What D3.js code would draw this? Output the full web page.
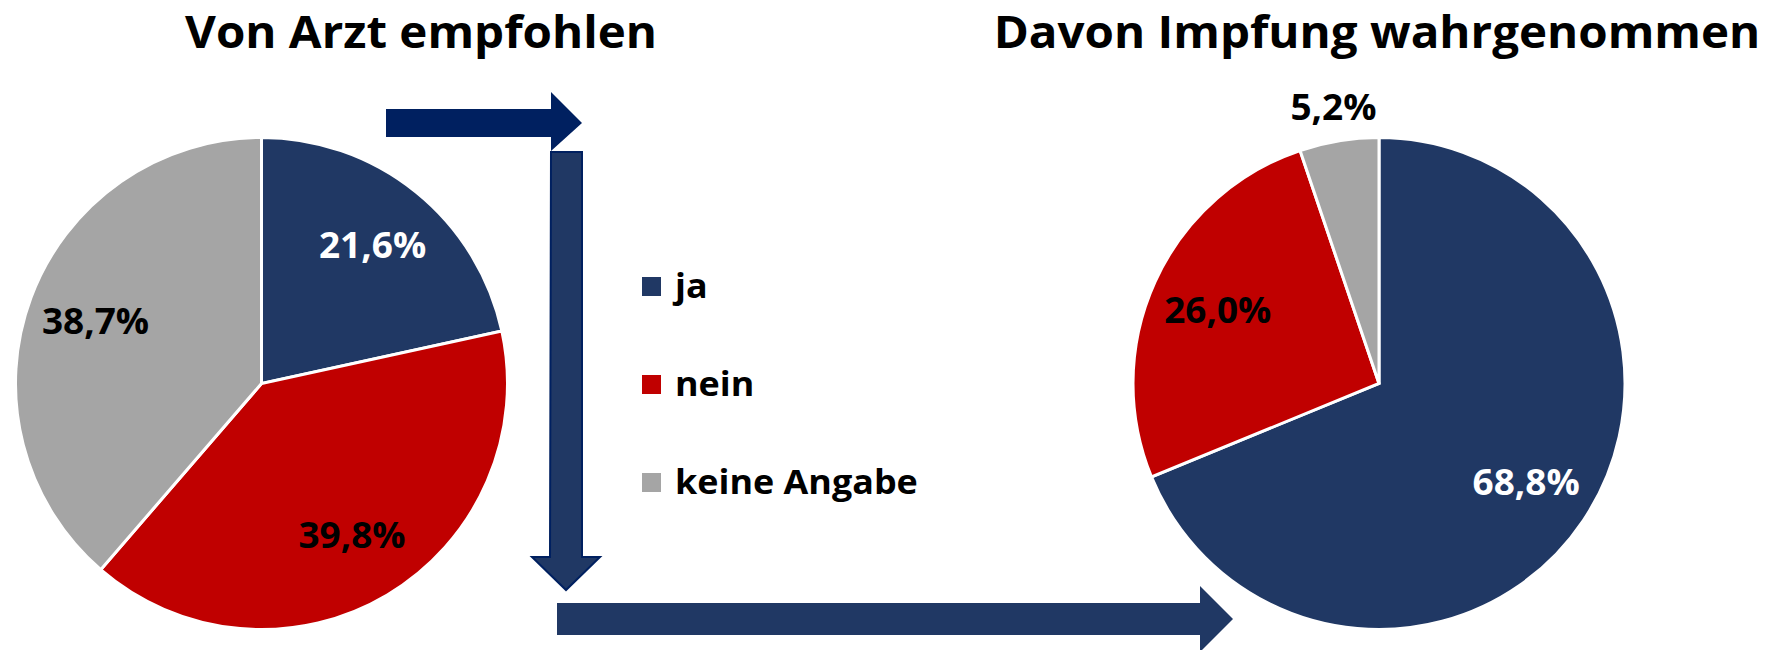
<!DOCTYPE html>
<html>
<head>
<meta charset="utf-8">
<script src="https://cdn.jsdelivr.net/npm/d3@7"></script>
<style>
  body{margin:0;background:#fff;}
  text{font-family:'Open Sans',sans-serif;font-weight:bold;}
</style>
</head>
<body>
<script>
// data
const cats = ['ja','nein','keine Angabe'];
const leftVals = [21.6, 39.8, 38.7];
const rightVals = [68.8, 26.0, 5.2];
const titles = ['Von Arzt empfohlen','Davon Impfung wahrgenommen'];

const w = 1775;
const h = 650;
const R = 246;
const colors = ['#203864','#C00000','#A5A5A5'];
const labelColors = ['#fff','#000','#000'];

var svg = d3.select('body').append('svg')
  .attr('width',w)
  .attr('height',h);

const color = d3.scaleOrdinal().domain(cats).range(colors);
const pie = d3.pie().sort(null).value(d=>d);
const arc = d3.arc().innerRadius(0).outerRadius(R);
const labelArc = d3.arc().innerRadius(R*0.72).outerRadius(R*0.72);
const outArc = d3.arc().innerRadius(R+34).outerRadius(R+34);

function fmt(v){
  return v.toFixed(1).replace('.',',')+'%';
}

//----------PIES----------
function drawPie(vals,cx,cy,title,titleX){
  var g = svg.append('g').attr('transform','translate('+cx+','+cy+')');
  var arcs = pie(vals);
  g.selectAll('path')
    .data(arcs)
    .enter().append('path')
    .attr('d',arc)
    .style('fill',(d,i)=>color(cats[i]))
    .style('stroke','#fff')
    .style('stroke-width',3);

  g.selectAll('text.lbl')
    .data(arcs)
    .enter().append('text')
    .attr('class','lbl cond')
    .attr('transform',d=>{
      var small = d.value<10;
      return 'translate('+(small?outArc:labelArc).centroid(d)+')';
    })
    .attr('text-anchor','middle')
    .attr('dy','0.36em')
    .style('font-size','35px')
    .style('fill',(d,i)=>d.value<10?'#000':labelColors[i])
    .text(d=>fmt(d.value));

  svg.append('text')
    .attr('class','cond title')
    .attr('x',titleX)
    .attr('y',48)
    .attr('text-anchor','middle')
    .style('font-size','45px')
    .style('fill','#000')
    .text(title);
}

drawPie(leftVals,261.5,383.5,titles[0],421);
drawPie(rightVals,1379,383.5,titles[1],1377);

//----------ARROWS----------
// top arrow (right)
svg.append('polygon')
  .attr('points',[[386,109],[551,109],[551,92],[582,123],[551,151],[551,137],[386,137]].join(' '))
  .style('fill','#002060');
// vertical arrow (down)
svg.append('polygon')
  .attr('points',[[551,152],[582,152],[582,557],[600,557],[566,590],[532,557],[550,557]].join(' '))
  .style('fill','#203864')
  .style('stroke','#002060')
  .style('stroke-width',2);
// bottom arrow (right)
svg.append('polygon')
  .attr('points',[[557,603],[1200,603],[1200,586],[1233,619],[1200,652],[1200,635],[557,635]].join(' '))
  .style('fill','#203864');

//----------LEGEND----------
var legend = svg.append('g').attr('id','legend');
var items = legend.selectAll('g')
  .data(cats)
  .enter().append('g')
  .attr('transform',(d,i)=>'translate(642,'+(277+i*98)+')');
items.append('rect')
  .attr('width',19)
  .attr('height',19)
  .style('fill',d=>color(d));
items.append('text')
  .attr('class','cond')
  .attr('x',33)
  .attr('y',21)
  .style('font-size','34px')
  .style('fill','#000')
  .text(d=>d);

//----------CONDENSE (calibri-ish width)----------
var t0 = svg.select('text.title').node();
var k = 472/t0.getComputedTextLength();
svg.selectAll('text.cond').each(function(){
  var len = this.getComputedTextLength();
  d3.select(this).attr('textLength',len*k).attr('lengthAdjust','spacingAndGlyphs');
});
</script>
</body>
</html>
